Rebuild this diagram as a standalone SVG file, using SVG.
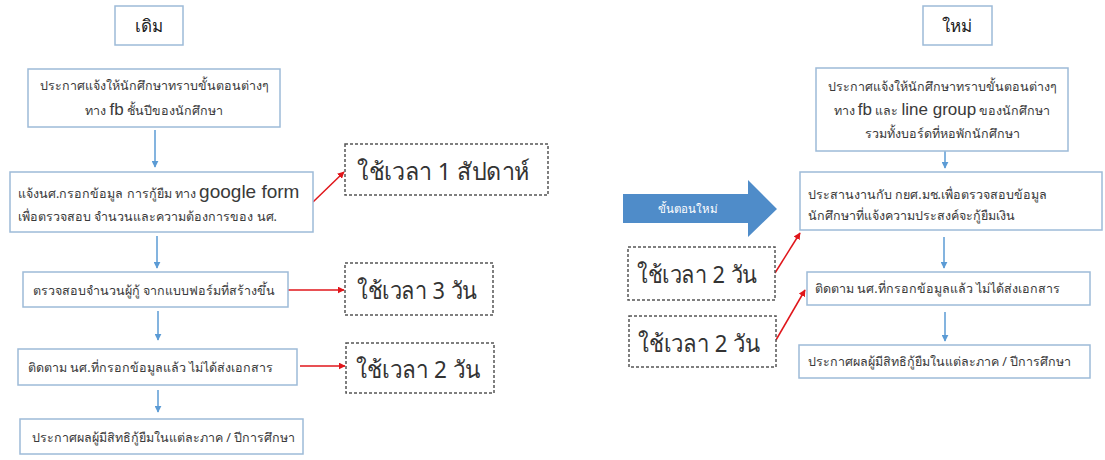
<svg xmlns="http://www.w3.org/2000/svg" width="1105" height="460" viewBox="0 0 1105 460">
<style>
  .bx{fill:#fff;stroke:#9dbbd8;stroke-width:1.5}
  .db{fill:#fff;stroke:#555;stroke-width:1.5;stroke-dasharray:3 2}
  .t{font-family:"Noto Sans","DejaVu Sans",sans-serif;font-size:12.5px;fill:#3a3a3a}
  .big{font-family:"Noto Sans","DejaVu Sans",sans-serif;font-size:24px;fill:#333}
  .ttl{font-family:"Noto Sans","DejaVu Sans",sans-serif;font-size:17px;fill:#222}
  .en{font-family:"Liberation Sans","Noto Sans",sans-serif;font-size:17px}
  .bl{stroke:#5b9bd5;stroke-width:1.5;fill:none}
  .rd{stroke:#e0161b;stroke-width:1.5;fill:none}
</style>
<defs>
  <marker id="ab" viewBox="0 0 10 10" refX="9" refY="5" markerWidth="7" markerHeight="7" markerUnits="userSpaceOnUse" orient="auto"><path d="M0,0 L10,5 L0,10 z" fill="#5b9bd5"/></marker>
  <marker id="ar" viewBox="0 0 10 10" refX="9" refY="5" markerWidth="7" markerHeight="7" markerUnits="userSpaceOnUse" orient="auto"><path d="M0,0 L10,5 L0,10 z" fill="#e0161b"/></marker>
</defs>

<g id="connectors">
  <line class="bl" x1="155" y1="130" x2="155" y2="167" marker-end="url(#ab)"/>
  <line class="bl" x1="157" y1="236" x2="157" y2="268" marker-end="url(#ab)"/>
  <line class="bl" x1="158" y1="311" x2="158" y2="340" marker-end="url(#ab)"/>
  <line class="bl" x1="158" y1="390" x2="158" y2="412" marker-end="url(#ab)"/>
  <line class="bl" x1="945" y1="133" x2="945" y2="168" marker-end="url(#ab)"/>
  <line class="bl" x1="944" y1="237" x2="944" y2="268" marker-end="url(#ab)"/>
  <line class="bl" x1="945" y1="312" x2="945" y2="341" marker-end="url(#ab)"/>
  <line class="rd" x1="313" y1="202" x2="344" y2="172" marker-end="url(#ar)"/>
  <line class="rd" x1="288" y1="290" x2="344" y2="290" marker-end="url(#ar)"/>
  <line class="rd" x1="300" y1="366" x2="345" y2="366" marker-end="url(#ar)"/>
  <line class="rd" x1="775" y1="273" x2="800" y2="233" marker-end="url(#ar)"/>
  <line class="rd" x1="776" y1="340" x2="805" y2="290" marker-end="url(#ar)"/>
</g>

<g id="title-old">
  <rect class="bx" x="115" y="6" width="68" height="39"/>
  <text class="ttl" x="149" y="32" text-anchor="middle">เดิม</text>
</g>
<g id="old-1">
  <rect class="bx" x="28" y="69" width="252" height="58"/>
  <text class="t" x="154" y="90" text-anchor="middle">ประกาศแจ้งให้นักศึกษาทราบขั้นตอนต่างๆ</text>
  <text class="t" x="154" y="115" text-anchor="middle">ทาง <tspan class="en">fb</tspan> ชั้นปีของนักศึกษา</text>
</g>
<g id="old-2">
  <rect class="bx" x="10" y="172" width="303" height="60"/>
  <text class="t" x="18" y="198">แจ้งนศ.กรอกข้อมูล การกู้ยืม ทาง <tspan class="en" style="font-size:19px">google form</tspan></text>
  <text class="t" x="18" y="221">เพื่อตรวจสอบ จำนวนและความต้องการของ นศ.</text>
</g>
<g id="old-3">
  <rect class="bx" x="23" y="272" width="265" height="35"/>
  <text class="t" x="33" y="295">ตรวจสอบจำนวนผู้กู้ จากแบบฟอร์มที่สร้างขึ้น</text>
</g>
<g id="old-4">
  <rect class="bx" x="18" y="349" width="279" height="36"/>
  <text class="t" x="28" y="372">ติดตาม นศ.ที่กรอกข้อมูลแล้ว ไม่ได้ส่งเอกสาร</text>
</g>
<g id="old-5">
  <rect class="bx" x="20" y="419" width="283" height="35"/>
  <text class="t" x="32" y="442">ประกาศผลผู้มีสิทธิกู้ยืมในแต่ละภาค / ปีการศึกษา</text>
</g>

<g id="time-week">
  <rect class="db" x="345" y="144" width="203" height="51"/>
  <text class="big" x="357" y="180" textLength="173" lengthAdjust="spacingAndGlyphs">ใช้เวลา 1 สัปดาห์</text>
</g>
<g id="time-3d">
  <rect class="db" x="345" y="263" width="148" height="52"/>
  <text class="big" x="357" y="299" textLength="120" lengthAdjust="spacingAndGlyphs">ใช้เวลา 3 วัน</text>
</g>
<g id="time-2d-left">
  <rect class="db" x="346" y="343" width="148" height="50"/>
  <text class="big" x="356" y="378" textLength="124" lengthAdjust="spacingAndGlyphs">ใช้เวลา 2 วัน</text>
</g>

<g id="new-step-arrow">
  <polygon points="623,194 748,194 748,180 777,209 748,237 748,223 623,223" fill="#4f8cc9"/>
  <text x="688" y="213" text-anchor="middle" style="font-family:'Noto Sans','DejaVu Sans',sans-serif;font-size:11.5px;fill:#fff">ขั้นตอนใหม่</text>
</g>

<g id="title-new">
  <rect class="bx" x="923" y="6" width="69" height="39"/>
  <text class="ttl" x="957" y="32" text-anchor="middle">ใหม่</text>
</g>
<g id="new-1">
  <rect class="bx" x="816" y="68" width="252" height="83"/>
  <text class="t" x="942" y="91" text-anchor="middle">ประกาศแจ้งให้นักศึกษาทราบขั้นตอนต่างๆ</text>
  <text class="t" x="942" y="115" text-anchor="middle">ทาง <tspan class="en">fb</tspan> และ <tspan class="en">line group</tspan> ของนักศึกษา</text>
  <text class="t" x="942" y="138" text-anchor="middle">รวมทั้งบอร์ดที่หอพักนักศึกษา</text>
</g>
<g id="new-2">
  <rect class="bx" x="800" y="172" width="302" height="58"/>
  <text class="t" x="808" y="199">ประสานงานกับ กยศ.มช.เพื่อตรวจสอบข้อมูล</text>
  <text class="t" x="808" y="220">นักศึกษาที่แจ้งความประสงค์จะกู้ยืมเงิน</text>
</g>
<g id="new-3">
  <rect class="bx" x="807" y="272" width="283" height="33"/>
  <text class="t" x="815" y="293">ติดตาม นศ.ที่กรอกข้อมูลแล้ว ไม่ได้ส่งเอกสาร</text>
</g>
<g id="new-4">
  <rect class="bx" x="799" y="345" width="291" height="33"/>
  <text class="t" x="808" y="366">ประกาศผลผู้มีสิทธิกู้ยืมในแต่ละภาค / ปีการศึกษา</text>
</g>

<g id="time-2d-a">
  <rect class="db" x="628" y="247" width="147" height="53"/>
  <text class="big" x="637" y="283" textLength="120" lengthAdjust="spacingAndGlyphs">ใช้เวลา 2 วัน</text>
</g>
<g id="time-2d-b">
  <rect class="db" x="629" y="316" width="147" height="51"/>
  <text class="big" x="638" y="352" textLength="122" lengthAdjust="spacingAndGlyphs">ใช้เวลา 2 วัน</text>
</g>
</svg>
